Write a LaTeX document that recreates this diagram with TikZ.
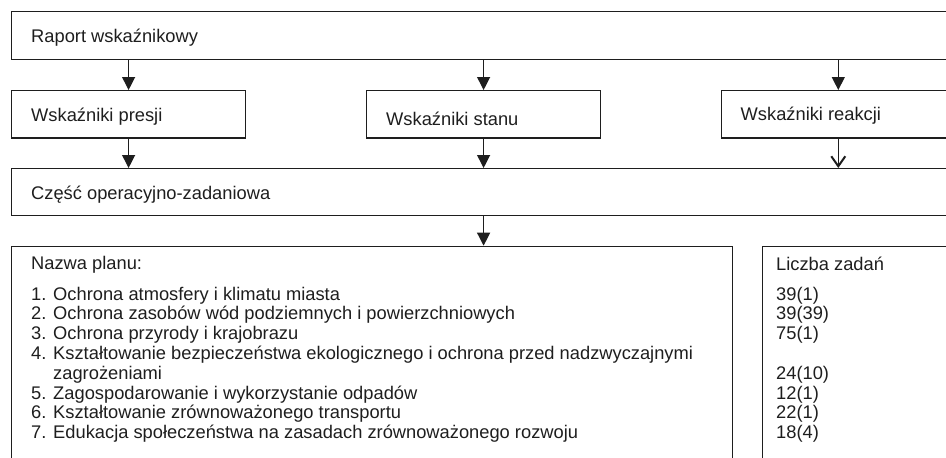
\documentclass[tikz,border=0pt]{standalone}
\usepackage{fontspec}
\setmainfont{Liberation Sans}
\usetikzlibrary{arrows.meta}
\definecolor{ink}{HTML}{1E1E1E}
\begin{document}
\begin{tikzpicture}[x=1pt,y=1pt,
  box/.style={draw=ink, line width=1.2pt, rectangle, inner sep=0pt, anchor=north west},
  lbl/.style={anchor=base west, inner sep=0pt, text=ink, font=\fontsize{18.3}{20}\selectfont},
  arr/.style={draw=ink, line width=1.2pt, -{Triangle[length=13pt,width=13pt]}},
  varr/.style={draw=ink, line width=1.2pt, -{Straight Barb[length=10pt,width=14pt,line width=2pt]}}]
\useasboundingbox (0,0) rectangle (946,-458);
\clip (0,0) rectangle (946,-458);
% boxes
\node[box, minimum width=960pt, minimum height=47.5pt] (raport) at (11,-11) {};
\node[box, minimum width=234pt, minimum height=47.3pt] (presji) at (11,-90) {};
\node[box, minimum width=234pt, minimum height=47.3pt] (stanu) at (366,-90) {};
\node[box, minimum width=234pt, minimum height=47.3pt] (reakcji) at (720.7,-90) {};
\node[box, minimum width=960pt, minimum height=47pt] (czesc) at (11,-168) {};
\node[box, minimum width=721pt, minimum height=300pt] (plan) at (11,-245.7) {};
\node[box, minimum width=300pt, minimum height=300pt] (liczba) at (762,-245.7) {};
% labels
\node[lbl] (raportT) at (31,-42.5) {Raport wskaźnikowy};
\node[lbl] (presjiT) at (31,-121.5) {Wskaźniki presji};
\node[lbl] (stanuT) at (386,-125) {Wskaźniki stanu};
\node[lbl] (reakcjiT) at (740.5,-120.7) {Wskaźniki reakcji};
\node[lbl] (czescT) at (31,-199.3) {Część operacyjno-zadaniowa};
% list
\node[lbl] (n0) at (31,-269.5) {Nazwa planu:};
\node[lbl] (l1) at (31,-300) {1. Ochrona atmosfery i klimatu miasta};
\node[lbl] (l2) at (31,-319.8) {2. Ochrona zasobów wód podziemnych i powierzchniowych};
\node[lbl] (l3) at (31,-339.6) {3. Ochrona przyrody i krajobrazu};
\node[lbl] (l4) at (31,-359.4) {4. Kształtowanie bezpieczeństwa ekologicznego i ochrona przed nadzwyczajnymi};
\node[lbl] (l4b) at (31,-379.2) {\phantom{4. }zagrożeniami};
\node[lbl] (l5) at (31,-399) {5. Zagospodarowanie i wykorzystanie odpadów};
\node[lbl] (l6) at (31,-418.8) {6. Kształtowanie zrównoważonego transportu};
\node[lbl] (l7) at (31,-438.6) {7. Edukacja społeczeństwa na zasadach zrównoważonego rozwoju};
% numbers
\node[lbl] (m0) at (776,-270) {Liczba zadań};
\node[lbl] (m1) at (776,-300) {39(1)};
\node[lbl] (m2) at (776,-319.8) {39(39)};
\node[lbl] (m3) at (776,-339.6) {75(1)};
\node[lbl] (m4) at (776,-379.2) {24(10)};
\node[lbl] (m5) at (776,-399) {12(1)};
\node[lbl] (m6) at (776,-418.8) {22(1)};
\node[lbl] (m7) at (776,-438.6) {18(4)};
% connectors
\draw[arr] (raport.south -| presji.north) -- (presji.north);
\draw[arr] (raport.south -| stanu.north) -- (stanu.north);
\draw[arr] (raport.south -| reakcji.north) -- (reakcji.north);
\draw[arr] (presji.south) -- (presji.south |- czesc.north);
\draw[arr] (stanu.south) -- (stanu.south |- czesc.north);
\draw[varr] (reakcji.south) -- (reakcji.south |- czesc.north);
\draw[arr] (czesc.south -| stanu.south) -- (plan.north -| stanu.south);
\end{tikzpicture}
\end{document}
